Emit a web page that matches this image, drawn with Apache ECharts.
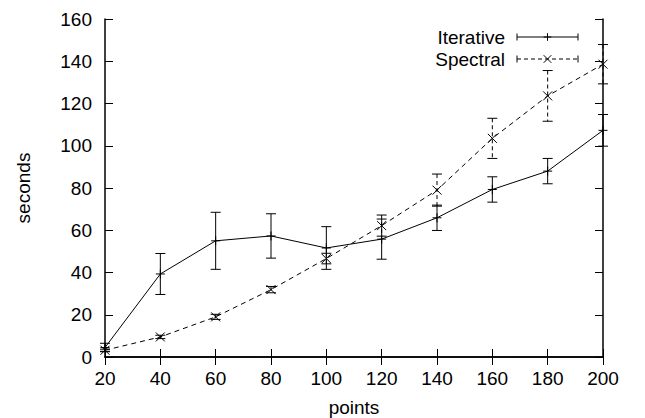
<!DOCTYPE html>
<html><head><meta charset="utf-8">
<script src="https://cdn.jsdelivr.net/npm/echarts@6/dist/echarts.min.js"></script>
<style>html,body{margin:0;padding:0;background:#fff}#c{width:645px;height:418px}</style>
</head><body><div id="c"></div>
<script>
const points = [20, 40, 60, 80, 100, 120, 140, 160, 180, 200];
const iterative = [4.5, 39.3, 55.0, 57.3, 51.6, 55.8, 65.9, 79.3, 88.0, 107.3];
const iterativeErr = [2.0, 9.7, 13.5, 10.5, 10.1, 9.5, 6.0, 6.0, 6.0, 7.5];
const spectral = [3.2, 9.5, 19.0, 31.9, 46.6, 62.2, 79.0, 103.5, 123.6, 138.6];
const spectralErr = [0.5, 0.8, 1.2, 1.5, 2.5, 5.0, 7.6, 9.5, 12.0, 9.3];
const xTicks = [20, 40, 60, 80, 100, 120, 140, 160, 180, 200];
const yTicks = [0, 20, 40, 60, 80, 100, 120, 140, 160];

const FONT = '"Liberation Sans", Arial, Helvetica, sans-serif';
const FS = 19;

function errorRender(marker, dashed) {
  return function (params, api) {
    const x = api.value(0), y = api.value(1), e = api.value(2);
    const p = api.coord([x, y]);
    const t = api.coord([x, y + e]);
    const b = api.coord([x, y - e]);
    const cw = 5, m = 4.5;
    const st = { stroke: '#000', lineWidth: 1, lineDash: dashed ? [4, 3] : null, fill: null };
    const solid = { stroke: '#000', lineWidth: 1, fill: null };
    const children = [
      { type: 'line', shape: { x1: t[0], y1: t[1], x2: b[0], y2: b[1] }, style: st },
      { type: 'line', shape: { x1: t[0] - cw, y1: t[1], x2: t[0] + cw, y2: t[1] }, style: solid },
      { type: 'line', shape: { x1: b[0] - cw, y1: b[1], x2: b[0] + cw, y2: b[1] }, style: solid }
    ];
    if (marker === 'plus') {
      children.push({ type: 'line', shape: { x1: p[0] - m, y1: p[1], x2: p[0] + m, y2: p[1] }, style: solid });
      children.push({ type: 'line', shape: { x1: p[0], y1: p[1] - m, x2: p[0], y2: p[1] + m }, style: solid });
    } else {
      children.push({ type: 'line', shape: { x1: p[0] - m, y1: p[1] - m, x2: p[0] + m, y2: p[1] + m }, style: solid });
      children.push({ type: 'line', shape: { x1: p[0] - m, y1: p[1] + m, x2: p[0] + m, y2: p[1] - m }, style: solid });
    }
    return { type: 'group', children: children };
  };
}

function legendRow(label, y, marker, dashed) {
  const x1 = 517, x2 = 578, xc = (x1 + x2) / 2, ch = 3.5, m = 3.8;
  const solid = { stroke: '#000', lineWidth: 1, fill: null };
  const items = [
    { type: 'text', x: 505, y: y, style: { text: label, align: 'right', verticalAlign: 'middle', fontSize: FS, fontFamily: FONT, fill: '#000' } },
    { type: 'line', shape: { x1: x1, y1: y, x2: x2, y2: y }, style: { stroke: '#000', lineWidth: 1, lineDash: dashed ? [4, 3] : null } },
    { type: 'line', shape: { x1: x1, y1: y - ch, x2: x1, y2: y + ch }, style: solid },
    { type: 'line', shape: { x1: x2, y1: y - ch, x2: x2, y2: y + ch }, style: solid }
  ];
  if (marker === 'plus') {
    items.push({ type: 'line', shape: { x1: xc - m, y1: y, x2: xc + m, y2: y }, style: solid });
    items.push({ type: 'line', shape: { x1: xc, y1: y - m, x2: xc, y2: y + m }, style: solid });
  } else {
    items.push({ type: 'line', shape: { x1: xc - m, y1: y - m, x2: xc + m, y2: y + m }, style: solid });
    items.push({ type: 'line', shape: { x1: xc - m, y1: y + m, x2: xc + m, y2: y - m }, style: solid });
  }
  return items;
}

const axisLineStyle = { show: true, lineStyle: { color: '#000', width: 1.5 } };
const tickStyle = { show: true, inside: true, length: 8, lineStyle: { color: '#000', width: 1 } };
const labelStyle = { color: '#000', fontSize: FS, fontFamily: FONT };

const chart = echarts.init(document.getElementById('c'), null, { renderer: 'svg' });
chart.setOption({
  animation: false,
  backgroundColor: '#fff',
  grid: { left: 105, right: 42, top: 19, bottom: 61, containLabel: false, outerBoundsMode: 'none' },
  xAxis: [
    {
      type: 'value', min: xTicks[0], max: xTicks[xTicks.length - 1], interval: xTicks[1] - xTicks[0],
      name: 'points', nameLocation: 'middle', nameGap: 41,
      nameTextStyle: { color: '#000', fontSize: FS, fontFamily: FONT },
      axisLine: axisLineStyle, axisTick: tickStyle,
      axisLabel: Object.assign({ margin: 12 }, labelStyle),
      splitLine: { show: false }
    },
    {
      type: 'value', position: 'top', min: xTicks[0], max: xTicks[xTicks.length - 1], interval: xTicks[1] - xTicks[0],
      axisLine: axisLineStyle, axisTick: tickStyle, axisLabel: { show: false }, splitLine: { show: false }
    }
  ],
  yAxis: [
    {
      type: 'value', min: yTicks[0], max: yTicks[yTicks.length - 1], interval: yTicks[1] - yTicks[0],
      name: 'seconds', nameLocation: 'middle', nameGap: 72, nameRotate: 90,
      nameTextStyle: { color: '#000', fontSize: FS, fontFamily: FONT },
      axisLine: axisLineStyle, axisTick: tickStyle,
      axisLabel: Object.assign({ margin: 13 }, labelStyle),
      splitLine: { show: false }
    },
    {
      type: 'value', position: 'right', min: yTicks[0], max: yTicks[yTicks.length - 1], interval: yTicks[1] - yTicks[0],
      axisLine: axisLineStyle, axisTick: tickStyle, axisLabel: { show: false }, splitLine: { show: false }
    }
  ],
  series: [
    {
      name: 'Iterative', type: 'line', xAxisIndex: 0, yAxisIndex: 0,
      data: points.map((x, i) => [x, iterative[i]]),
      showSymbol: false, lineStyle: { color: '#000', width: 1 }, silent: true
    },
    {
      name: 'Spectral', type: 'line', xAxisIndex: 0, yAxisIndex: 0,
      data: points.map((x, i) => [x, spectral[i]]),
      showSymbol: false, lineStyle: { color: '#000', width: 1, type: [5, 4] }, silent: true
    },
    {
      name: 'Iterative', type: 'custom', xAxisIndex: 0, yAxisIndex: 0,
      renderItem: errorRender('plus', false), encode: { x: 0, y: 1 },
      data: points.map((x, i) => [x, iterative[i], iterativeErr[i]]), silent: true
    },
    {
      name: 'Spectral', type: 'custom', xAxisIndex: 0, yAxisIndex: 0,
      renderItem: errorRender('cross', true), encode: { x: 0, y: 1 },
      data: points.map((x, i) => [x, spectral[i], spectralErr[i]]), silent: true
    }
  ],
  graphic: legendRow('Iterative', 37, 'plus', false).concat(legendRow('Spectral', 59, 'cross', true))
});
</script>
</body></html>
